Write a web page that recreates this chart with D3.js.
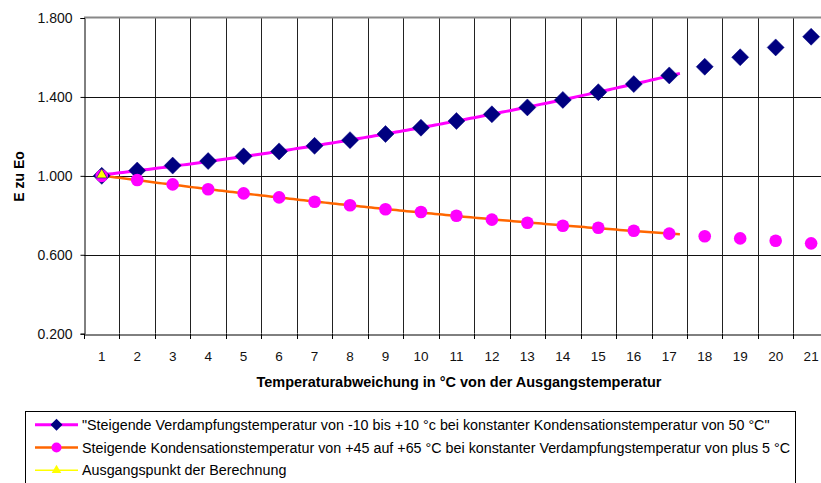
<!DOCTYPE html>
<html>
<head>
<meta charset="utf-8">
<script src="https://cdn.jsdelivr.net/npm/d3@7"></script>
<style>
  html, body { margin: 0; padding: 0; background: #fff; }
  svg { display: block; font-family: "Liberation Sans", Arial, sans-serif; }
</style>
</head>
<body>
<svg id="chart" width="821" height="483"></svg>
<script>
// Category positions 1..21 on the x axis
const categories = d3.range(1, 22);

// E / Eo with rising evaporation temperature (-10 .. +10 °C)
const verdampfung = [1.000, 1.027, 1.052, 1.075, 1.099, 1.124, 1.152, 1.181, 1.212, 1.244,
                     1.278, 1.312, 1.347, 1.385, 1.424, 1.465, 1.509, 1.553, 1.601, 1.651, 1.705];

// E / Eo with rising condensation temperature (+45 .. +65 °C)
const kondensation = [1.000, 0.979, 0.957, 0.932, 0.911, 0.891, 0.869, 0.851, 0.831, 0.817,
                      0.798, 0.778, 0.762, 0.747, 0.737, 0.722, 0.707, 0.694, 0.683, 0.671, 0.658];

// Starting point of the calculation
const ausgangspunkt = [{ cat: 1, value: 1.000 }];

const yTicks = [0.2, 0.6, 1.0, 1.4, 1.8];

const legendLabels = [
  "\"Steigende Verdampfungstemperatur von -10 bis +10 °c bei konstanter Kondensationstemperatur von 50 °C\"",
  "Steigende Kondensationstemperatur von +45 auf +65 °C bei konstanter Verdampfungstemperatur von plus 5 °C",
  "Ausgangspunkt der Berechnung"
];

// trend lines are fitted over the first 17 points and run slightly past the last one
const trendCount = 17;
const trendEnd = 17.3;

const svg = d3.select("#chart");

const plot = { left: 84, top: 18, bottom: 333.7, catWidth: 35.47 };
plot.right = plot.left + plot.catWidth * categories.length;

const x = d3.scaleBand().domain(categories).range([plot.left, plot.right]).padding(0);
const xc = c => x(c) + x.bandwidth() / 2;
// continuous version of the category axis (for the fitted lines)
const xLin = d3.scaleLinear().domain([1, 2]).range([xc(1), xc(2)]);
const y = d3.scaleLinear().domain([0.2, 1.8]).range([plot.bottom, plot.top]);

// vertical grid lines between categories
const bounds = categories.map(c => x(c)).concat([plot.right]);
svg.append("g").selectAll("line").data(bounds.slice(1)).join("line")
  .attr("x1", d => Math.round(d) + 0.5).attr("x2", d => Math.round(d) + 0.5)
  .attr("y1", plot.top).attr("y2", plot.bottom)
  .attr("stroke", "#222").attr("stroke-width", 1);

// horizontal grid lines
svg.append("g").selectAll("line").data(yTicks.filter(t => t > 0.2 && t < 1.8)).join("line")
  .attr("x1", plot.left).attr("x2", plot.right)
  .attr("y1", d => Math.round(y(d)) + 0.5).attr("y2", d => Math.round(y(d)) + 0.5)
  .attr("stroke", "#111").attr("stroke-width", 1);

// plot area top border
svg.append("line")
  .attr("x1", plot.left).attr("x2", plot.right)
  .attr("y1", plot.top - 0.5).attr("y2", plot.top - 0.5)
  .attr("stroke", "#888").attr("stroke-width", 2);

// y axis
const yAxis = d3.axisLeft(y).tickValues(yTicks).tickFormat(d3.format(".3f")).tickSize(4).tickPadding(8);
const gy = svg.append("g").attr("transform", `translate(${plot.left + 0.5},0)`).call(yAxis);
gy.select(".domain").attr("stroke", "#000");
gy.selectAll(".tick line").attr("stroke", "#000");
gy.selectAll("text").attr("font-size", 14).attr("fill", "#111").attr("font-family", "Liberation Sans, Arial, sans-serif");

// x axis: labels centred in categories, tick marks between categories
const xAxis = d3.axisBottom(x).tickSize(0).tickPadding(17);
const gx = svg.append("g").attr("transform", `translate(0,${Math.round(plot.bottom) + 0.5})`).call(xAxis);
gx.select(".domain").attr("stroke", "#000");
gx.selectAll("text").attr("font-size", 13.5).attr("fill", "#111").attr("font-family", "Liberation Sans, Arial, sans-serif");
svg.append("g").selectAll("line").data(bounds).join("line")
  .attr("x1", d => Math.round(d) + 0.5).attr("x2", d => Math.round(d) + 0.5)
  .attr("y1", Math.round(plot.bottom)).attr("y2", Math.round(plot.bottom) + 5)
  .attr("stroke", "#000");

// axis titles
svg.append("text")
  .attr("x", 459).attr("y", 386.5).attr("text-anchor", "middle")
  .attr("font-size", 14).attr("font-weight", "bold").attr("fill", "#000")
  .attr("textLength", 405).attr("lengthAdjust", "spacingAndGlyphs")
  .text("Temperaturabweichung in °C von der Ausgangstemperatur");

svg.append("text")
  .attr("transform", "translate(24,176.5) rotate(-90)")
  .attr("text-anchor", "middle")
  .attr("font-size", 14).attr("font-weight", "bold").attr("fill", "#000")
  .text("E zu Eo");

// least-squares quadratic fit through the first n points
function quadFit(vals, n) {
  const pts = vals.slice(0, n).map((v, i) => [i + 1, v]);
  let s = Array(5).fill(0), t = Array(3).fill(0);
  pts.forEach(([a, b]) => {
    for (let k = 0; k < 5; k++) s[k] += Math.pow(a, k);
    for (let k = 0; k < 3; k++) t[k] += b * Math.pow(a, k);
  });
  const M = [[s[0], s[1], s[2]], [s[1], s[2], s[3]], [s[2], s[3], s[4]]];
  const det = m => m[0][0] * (m[1][1] * m[2][2] - m[1][2] * m[2][1])
                 - m[0][1] * (m[1][0] * m[2][2] - m[1][2] * m[2][0])
                 + m[0][2] * (m[1][0] * m[2][1] - m[1][1] * m[2][0]);
  const D = det(M);
  const coef = [0, 1, 2].map(j => det(M.map((row, i) => row.map((v, k) => k === j ? t[i] : v))) / D);
  return xv => coef[0] + coef[1] * xv + coef[2] * xv * xv;
}

const line = d3.line().x(d => xLin(d[0])).y(d => y(d[1]));
const samples = d3.range(1, trendEnd + 0.001, 0.1);

const fitV = quadFit(verdampfung, trendCount);
const fitK = quadFit(kondensation, trendCount);

svg.append("path")
  .attr("d", line(samples.map(s => [s, fitK(s)])))
  .attr("fill", "none").attr("stroke", "#ff6600").attr("stroke-width", 2.5);

svg.append("path")
  .attr("d", line(samples.map(s => [s, fitV(s)])))
  .attr("fill", "none").attr("stroke", "#ff00ff").attr("stroke-width", 3);

// markers
function diamondPath(cx, cy, r) {
  return `M${cx},${cy - r}L${cx + r},${cy}L${cx},${cy + r}L${cx - r},${cy}Z`;
}

svg.append("g").selectAll("path").data(verdampfung).join("path")
  .attr("d", (d, i) => diamondPath(xc(categories[i]), y(d), 8.5))
  .attr("fill", "#000080").attr("stroke", "#000080").attr("stroke-width", 0.5);

svg.append("g").selectAll("circle").data(kondensation).join("circle")
  .attr("cx", (d, i) => xc(categories[i])).attr("cy", d => y(d)).attr("r", 6.3)
  .attr("fill", "#ff00ff");

const tri = d3.symbol().type(d3.symbolTriangle).size(48);
svg.append("g").selectAll("path").data(ausgangspunkt).join("path")
  .attr("d", tri)
  .attr("transform", d => `translate(${xc(d.cat)},${y(d.value) - 1})`)
  .attr("fill", "#ffff00").attr("stroke", "#000080").attr("stroke-width", 0.6);

// legend
const legend = svg.append("g");
legend.append("rect")
  .attr("x", 25.5).attr("y", 411.5).attr("width", 770).attr("height", 90)
  .attr("fill", "#fff").attr("stroke", "#000").attr("stroke-width", 1);

const legendRows = [424.7, 447.5, 470.3];
const legendColors = ["#ff00ff", "#ff6600", "#ffff00"];
const legendWidths = [3, 2.5, 1.5];

legendRows.forEach((ly, i) => {
  legend.append("line")
    .attr("x1", 35).attr("x2", 78).attr("y1", ly).attr("y2", ly)
    .attr("stroke", legendColors[i]).attr("stroke-width", legendWidths[i]);
});
legend.append("path").attr("d", diamondPath(56.5, legendRows[0], 6)).attr("fill", "#000080");
legend.append("circle").attr("cx", 56.5).attr("cy", legendRows[1]).attr("r", 5).attr("fill", "#ff00ff");
legend.append("path").attr("d", d3.symbol().type(d3.symbolTriangle).size(40))
  .attr("transform", `translate(56.5,${legendRows[2]})`).attr("fill", "#ffff00");

const texts = legend.selectAll("text.lg").data(legendLabels).join("text")
  .attr("class", "lg")
  .attr("x", 82).attr("y", (d, i) => legendRows[i] + 5)
  .attr("font-size", 14).attr("fill", "#000")
  .text(d => d);

// condense legend text to the box width
const natural = texts.nodes()[1].getComputedTextLength();
const factor = 708 / natural;
texts.each(function () {
  const w = this.getComputedTextLength();
  d3.select(this).attr("textLength", w * factor).attr("lengthAdjust", "spacingAndGlyphs");
});
</script>
</body>
</html>
